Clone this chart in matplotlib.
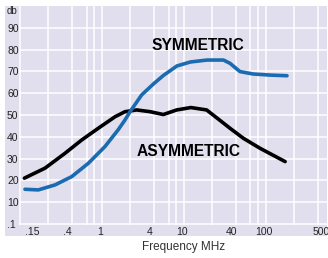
import matplotlib
matplotlib.use('Agg')
import matplotlib.pyplot as plt
from matplotlib.patches import Rectangle

# values (frequency in MHz, attenuation in db)
asym_freq = [0.119, 0.213, 0.373, 0.597, 0.953, 1.53, 2.02, 2.81, 4.09, 5.94,
             8.66, 12.9, 20.1, 29.3, 38.8, 56.5, 90.4, 183]
asym_db = [21.0, 25.6, 32.4, 38.5, 43.9, 49.2, 51.5, 52.3, 51.5, 50.2,
           52.3, 53.4, 52.3, 47.5, 43.9, 39.3, 34.7, 28.6]

sym_freq = [0.121, 0.176, 0.282, 0.451, 0.719, 1.15, 1.66, 2.02, 2.33, 3.23,
            4.49, 5.94, 8.73, 12.7, 20.3, 32.3, 38.8, 51.4, 74.2, 120, 193]
sym_db = [15.9, 15.6, 17.9, 21.7, 27.8, 35.5, 43.1, 47.7, 51.5, 59.2,
          64.2, 68.1, 72.5, 74.3, 75.2, 75.2, 73.7, 69.9, 68.8, 68.3, 68.0]

x_ticks = [0.15, 0.4, 1, 4, 10, 40, 100, 500]
x_labels = ['.15', '.4', '1', '4', '10', '40', '100', '500']
y_ticks = [0, 10, 20, 30, 40, 50, 60, 70, 80, 90]
y_labels = ['.1', '10', '20', '30', '40', '50', '60', '70', '80', '90']
grid_x = [0.106, 0.233, 0.457, 0.69, 0.85, 1.06, 2.33, 4.57, 6.9, 8.5,
          10.6, 23.3, 45.7, 69, 85, 106, 233, 457]

lavender = '#e1dfee'
blue = '#1b6bb0'

plt.rcParams['font.family'] = ['Liberation Sans', 'DejaVu Sans']

fig = plt.figure(figsize=(3.28, 2.58), dpi=100)
fig.patch.set_facecolor('white')
fig.patches.append(Rectangle((5 / 328, 22 / 258), 322 / 328, 230 / 258,
                             transform=fig.transFigure, facecolor=lavender,
                             edgecolor='none', zorder=-5))

ax = fig.add_axes([19 / 328, 33 / 258, 308 / 328, 219 / 258])
ax.set_zorder(1)
ax.set_facecolor(lavender)
ax.set_xscale('log')
ax.set_xlim(0.1023, 595)
ax.set_ylim(-0.5, 100)

for s in ax.spines.values():
    s.set_visible(False)

for gx in grid_x:
    ax.axvline(gx, color='white', lw=1.1, zorder=1)
for gy in y_ticks:
    ax.axhline(gy, color='white', lw=1.1, zorder=1)

ax.plot(asym_freq, asym_db, color='black', lw=2.6, solid_capstyle='round',
        solid_joinstyle='round', zorder=3)
ax.plot(sym_freq, sym_db, color=blue, lw=2.6, solid_capstyle='round',
        solid_joinstyle='round', zorder=4)

ax.set_xticks(x_ticks)
ax.set_xticklabels(x_labels)
ax.minorticks_off()
ax.set_yticks(y_ticks)
ax.set_yticklabels(y_labels)
ax.tick_params(axis='x', length=0, pad=1.5, labelsize=7.5, colors='#222222')
ax.tick_params(axis='y', length=0, pad=8.6, labelsize=7.5, colors='#222222')
plt.setp(ax.get_yticklabels(), ha='left')

ax.text(4.32, 82.1, 'SYMMETRIC', fontsize=11.2, fontweight='bold', va='center', ha='left')
ax.text(2.83, 33.0, 'ASYMMETRIC', fontsize=11.2, fontweight='bold', va='center', ha='left')

fig.text(7 / 328, 1 - 11.5 / 258, 'db', fontsize=7, va='center', ha='left', color='#222222')
fig.text(184 / 328, 1 - 247 / 258, 'Frequency MHz', fontsize=8.5, va='center', ha='center', color='#333333')

fig.savefig('out.png', dpi=100, facecolor='white')
